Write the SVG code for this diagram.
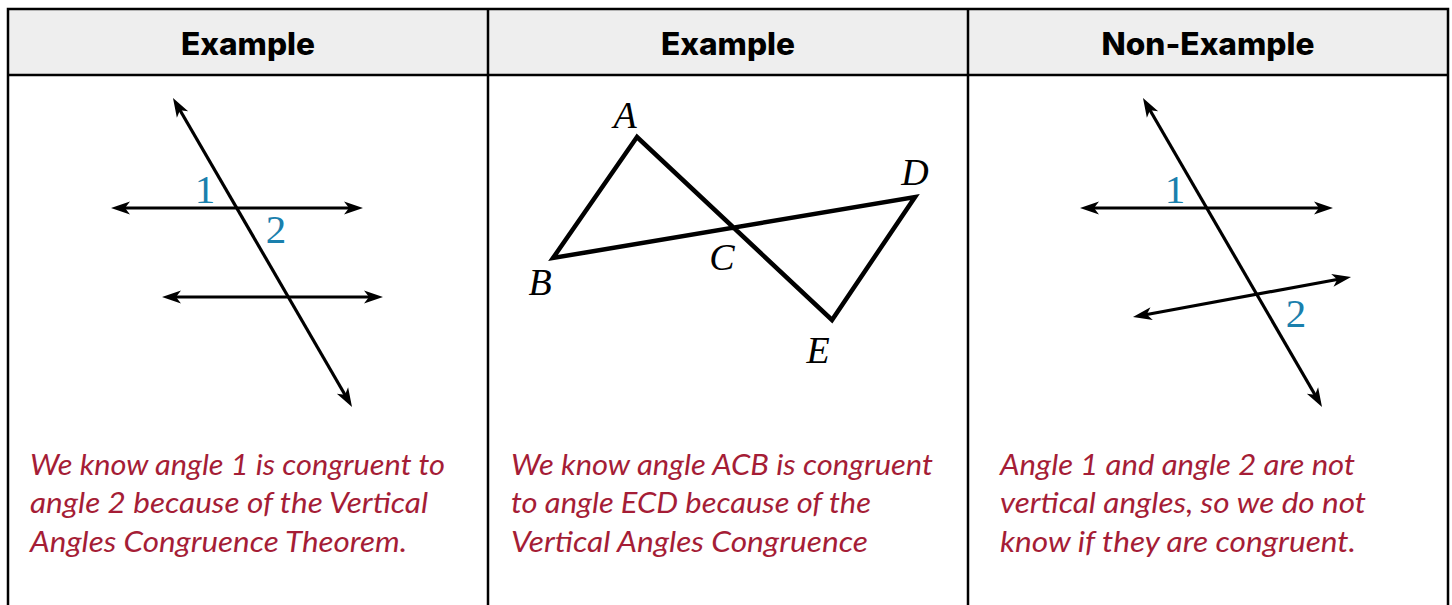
<svg xmlns="http://www.w3.org/2000/svg" width="1452" height="605" viewBox="0 0 1452 605">
<defs>
<style>
.grid{fill:none;stroke:#000;stroke-width:2.5}
.hdr{font-family:Inter,"Liberation Sans",sans-serif;font-weight:800;font-size:31px;fill:#000;text-anchor:middle}
.ln{fill:none;stroke:#000;stroke-width:3.2;marker-start:url(#ah);marker-end:url(#ah)}
.num{font-family:"Liberation Serif",serif;font-size:41px;fill:#1a80ad;text-anchor:middle}
.pt{font-family:"Liberation Serif",serif;font-style:italic;font-size:38px;fill:#000;text-anchor:middle}
.body{font-family:Lato,"Open Sans",sans-serif;font-style:italic;font-size:28px;fill:#a51d36}
</style>
<marker id="ah" viewBox="-10 -8 22 16" refX="0" refY="0" markerWidth="22" markerHeight="16" markerUnits="userSpaceOnUse" orient="auto-start-reverse">
<path d="M10,0 L-9,-6.5 L-4,0 L-9,6.5 Z" fill="#000"/>
</marker>
</defs>
<g id="table">
<rect x="8" y="9" width="1440" height="66" fill="#eeeeee"/>
<path class="grid" d="M8,620 V9 H1448 V620 M8,75 H1448 M488,9 V620 M968,9 V620"/>
<text class="hdr" x="248" y="55" textLength="134" lengthAdjust="spacingAndGlyphs">Example</text>
<text class="hdr" x="728" y="55" textLength="134" lengthAdjust="spacingAndGlyphs">Example</text>
<text class="hdr" x="1208" y="55" textLength="213" lengthAdjust="spacingAndGlyphs">Non-Example</text>
</g>
<g id="connectors">
<path class="ln" d="M178,106.7 L347,398.3"/>
<path class="ln" d="M121,208 H353"/>
<path class="ln" d="M172,297 H373"/>
<path class="ln" d="M1148,106.7 L1317,398.3"/>
<path class="ln" d="M1090,208 H1323"/>
<path class="ln" d="M1142.8,315.2 L1341.2,278.8"/>
<polygon points="637,137 553,258 915,197 832,320" fill="none" stroke="#000" stroke-width="4.5" stroke-linejoin="miter"/>
</g>
<g id="labels1">
<text class="num" x="205" y="203">1</text>
<text class="num" x="276" y="243">2</text>
</g>
<g id="labels2">
<text class="pt" x="625" y="128">A</text>
<text class="pt" x="540" y="295">B</text>
<text class="pt" x="722" y="270">C</text>
<text class="pt" x="915" y="185">D</text>
<text class="pt" x="818" y="363">E</text>
</g>
<g id="labels3">
<text class="num" x="1175" y="203">1</text>
<text class="num" x="1296" y="327">2</text>
</g>
<g id="text1">
<text class="body" x="30" y="475" textLength="415" lengthAdjust="spacingAndGlyphs">We know angle 1 is congruent to</text>
<text class="body" x="30" y="513" textLength="398" lengthAdjust="spacingAndGlyphs">angle 2 because of the Vertical</text>
<text class="body" x="30" y="552" textLength="377" lengthAdjust="spacingAndGlyphs">Angles Congruence Theorem.</text>
</g>
<g id="text2">
<text class="body" x="511" y="475" textLength="422" lengthAdjust="spacingAndGlyphs">We know angle ACB is congruent</text>
<text class="body" x="511" y="513" textLength="360" lengthAdjust="spacingAndGlyphs">to angle ECD because of the</text>
<text class="body" x="511" y="552" textLength="357" lengthAdjust="spacingAndGlyphs">Vertical Angles Congruence</text>
</g>
<g id="text3">
<text class="body" x="1000" y="475" textLength="355" lengthAdjust="spacingAndGlyphs">Angle 1 and angle 2 are not</text>
<text class="body" x="1000" y="513" textLength="366" lengthAdjust="spacingAndGlyphs">vertical angles, so we do not</text>
<text class="body" x="1000" y="552" textLength="356" lengthAdjust="spacingAndGlyphs">know if they are congruent.</text>
</g>
</svg>
